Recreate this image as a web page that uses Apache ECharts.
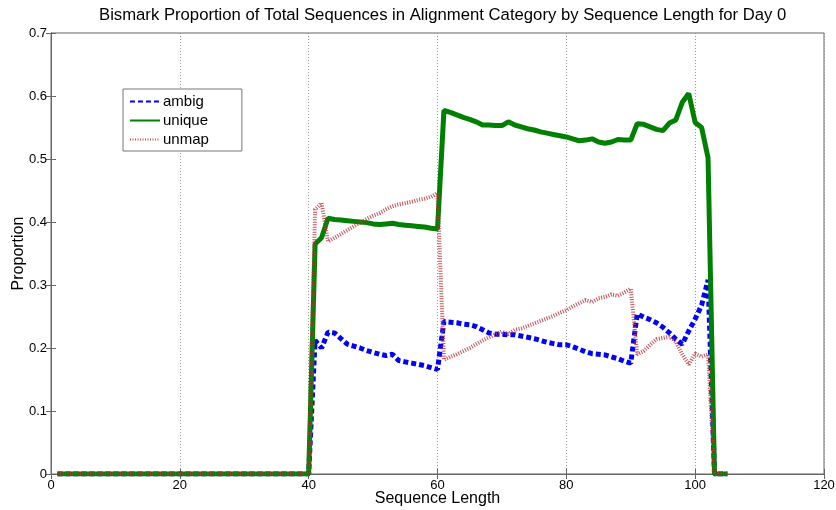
<!DOCTYPE html>
<html>
<head>
<meta charset="utf-8">
<script src="https://cdn.jsdelivr.net/npm/echarts@6/dist/echarts.min.js"></script>
<style>
  html, body { margin: 0; padding: 0; background: #fff; }
  #chart { width: 836px; height: 510px; }
</style>
</head>
<body>
<div id="chart"></div>
<script>
// Sequence lengths 1..105
const seqLength = [
  1,2,3,4,5,6,7,8,9,10,11,12,13,14,15,16,17,18,19,20,
  21,22,23,24,25,26,27,28,29,30,31,32,33,34,35,36,37,38,39,40,
  41,42,43,44,45,46,47,48,49,50,51,52,53,54,55,56,57,58,59,60,
  61,62,63,64,65,66,67,68,69,70,71,72,73,74,75,76,77,78,79,80,
  81,82,83,84,85,86,87,88,89,90,91,92,93,94,95,96,97,98,99,100,
  101,102,103,104,105
];

const ambig = [
  0,0,0,0,0,0,0,0,0,0,0,0,0,0,0,0,0,0,0,0,
  0,0,0,0,0,0,0,0,0,0,0,0,0,0,0,0,0,0,0,0,
  0.212,0.200,0.225,0.224,0.215,0.206,0.203,0.200,0.196,0.193,
  0.190,0.188,0.190,0.180,0.178,0.176,0.174,0.172,0.169,0.166,
  0.242,0.241,0.240,0.238,0.237,0.234,0.229,0.224,0.222,0.222,
  0.221,0.221,0.219,0.217,0.215,0.212,0.209,0.207,0.205,0.205,
  0.202,0.198,0.194,0.191,0.190,0.189,0.186,0.183,0.179,0.176,
  0.254,0.249,0.245,0.240,0.233,0.224,0.214,0.206,0.227,0.246,
  0.268,0.308,0,0,0
];

const unique = [
  0,0,0,0,0,0,0,0,0,0,0,0,0,0,0,0,0,0,0,0,
  0,0,0,0,0,0,0,0,0,0,0,0,0,0,0,0,0,0,0,0,
  0.365,0.375,0.406,0.404,0.403,0.402,0.401,0.400,0.399,0.397,
  0.396,0.397,0.398,0.396,0.395,0.394,0.393,0.392,0.390,0.389,
  0.577,0.574,0.570,0.566,0.563,0.559,0.554,0.554,0.553,0.553,
  0.559,0.554,0.551,0.548,0.546,0.543,0.541,0.539,0.537,0.535,
  0.532,0.529,0.530,0.532,0.527,0.525,0.527,0.531,0.530,0.530,
  0.556,0.555,0.551,0.547,0.545,0.557,0.562,0.590,0.604,0.558,
  0.550,0.502,0,0,0
];

const unmap = [
  0,0,0,0,0,0,0,0,0,0,0,0,0,0,0,0,0,0,0,0,
  0,0,0,0,0,0,0,0,0,0,0,0,0,0,0,0,0,0,0,0,
  0.420,0.430,0.369,0.375,0.381,0.387,0.393,0.399,0.405,0.410,
  0.414,0.420,0.425,0.428,0.430,0.432,0.435,0.437,0.440,0.446,
  0.181,0.186,0.190,0.195,0.200,0.206,0.212,0.217,0.222,0.226,
  0.222,0.229,0.231,0.235,0.239,0.243,0.247,0.251,0.256,0.260,
  0.266,0.271,0.276,0.273,0.279,0.281,0.285,0.283,0.288,0.294,
  0.190,0.195,0.205,0.214,0.216,0.218,0.210,0.190,0.174,0.191,
  0.186,0.190,0,0,0
];

const xTicks = [0, 20, 40, 60, 80, 100, 120];
const yTicks = [0, 0.1, 0.2, 0.3, 0.4, 0.5, 0.6, 0.7];

const FONT = 'Liberation Sans, Arial, sans-serif';
const pairs = ys => seqLength.map((x, i) => [x, ys[i]]);

const chart = echarts.init(document.getElementById('chart'), null, { renderer: 'canvas' });

const frameAxisLine = { show: true, lineStyle: { color: '#666', width: 1 } };
const tickIn = { show: true, inside: true, length: 5, lineStyle: { color: '#666' } };

chart.setOption({
  animation: false,
  backgroundColor: '#fff',
  title: {
    text: 'Bismark Proportion of Total Sequences in Alignment Category by Sequence Length for Day 0',
    left: 94,
    top: 2,
    textStyle: { fontFamily: FONT, fontSize: 16.7, fontWeight: 'normal', color: '#000' }
  },
  legend: {
    orient: 'vertical',
    left: 123,
    top: 89,
    width: 118,
    padding: [5, 33, 4, 6],
    itemGap: 4,
    itemWidth: 30,
    itemHeight: 16,
    borderColor: '#777',
    borderWidth: 1,
    backgroundColor: '#fff',
    itemStyle: { opacity: 0 },
    textStyle: { fontFamily: FONT, fontSize: 15, color: '#000', padding: [0, 0, 0, -2] },
    data: ['ambig', 'unique', 'unmap']
  },
  grid: {
    left: 51, right: 12, top: 33, bottom: 36,
    containLabel: false, outerBoundsMode: 'none',
    show: true, borderColor: '#666', borderWidth: 1
  },
  xAxis: [{
    type: 'value',
    min: xTicks[0],
    max: xTicks[xTicks.length - 1],
    interval: 20,
    name: 'Sequence Length',
    nameLocation: 'middle',
    nameGap: 17,
    nameMoveOverlap: false,
    nameTextStyle: { fontFamily: FONT, fontSize: 16, color: '#000' },
    axisLine: frameAxisLine,
    axisTick: tickIn,
    axisLabel: { fontFamily: FONT, fontSize: 13, color: '#000', margin: 5 },
    splitLine: { show: true, lineStyle: { color: '#999', type: [1, 2], width: 1 } }
  }, {
    type: 'value',
    position: 'top',
    min: xTicks[0],
    max: xTicks[xTicks.length - 1],
    interval: 20,
    axisLine: frameAxisLine,
    axisTick: tickIn,
    axisLabel: { show: false },
    splitLine: { show: false }
  }],
  yAxis: [{
    type: 'value',
    min: yTicks[0],
    max: yTicks[yTicks.length - 1],
    interval: 0.1,
    name: 'Proportion',
    nameLocation: 'middle',
    nameGap: 24,
    nameMoveOverlap: false,
    nameTextStyle: { fontFamily: FONT, fontSize: 16, color: '#000' },
    axisLine: frameAxisLine,
    axisTick: tickIn,
    axisLabel: { fontFamily: FONT, fontSize: 13, color: '#000', margin: 4 },
    splitLine: { show: false }
  }, {
    type: 'value',
    position: 'right',
    min: yTicks[0],
    max: yTicks[yTicks.length - 1],
    interval: 0.1,
    axisLine: frameAxisLine,
    axisTick: tickIn,
    axisLabel: { show: false },
    splitLine: { show: false }
  }],
  series: [
    {
      name: 'ambig',
      type: 'line',
      data: pairs(ambig),
      symbol: 'none',
      color: '#0000ff',
      lineStyle: { color: '#0000ff', width: 5, type: [5, 3] },
      z: 2
    },
    {
      name: 'unique',
      type: 'line',
      data: pairs(unique),
      symbol: 'none',
      color: '#008000',
      lineStyle: { color: '#008000', width: 5, type: 'solid' },
      z: 3
    },
    {
      name: 'unmap',
      type: 'line',
      data: pairs(unmap),
      symbol: 'none',
      color: '#b8323a',
      lineStyle: { color: '#b8323a', width: 4, type: [1, 1.5], opacity: 0.85 },
      z: 4
    }
  ]
});
</script>
</body>
</html>
